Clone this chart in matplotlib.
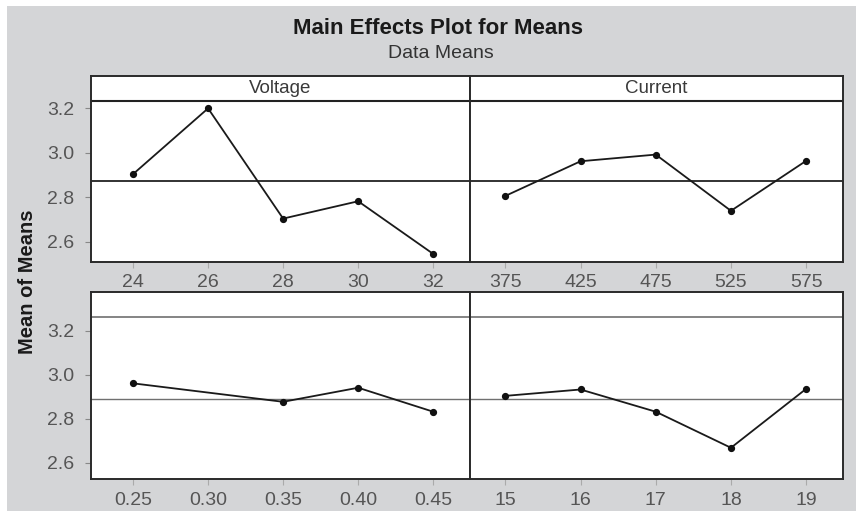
import matplotlib
matplotlib.use("Agg")
import matplotlib.pyplot as plt
from matplotlib.patches import Rectangle

plt.rcParams['font.family'] = ['Liberation Sans', 'DejaVu Sans']

# ---- data ----
voltage_levels = ['24', '26', '28', '30', '32']
voltage_means = [2.904, 3.200, 2.704, 2.782, 2.545]

current_levels = ['375', '425', '475', '525', '575']
current_means = [2.806, 2.962, 2.992, 2.739, 2.964]

feed_levels = ['0.25', '0.30', '0.35', '0.40', '0.45']
feed_means = [2.961, None, 2.877, 2.941, 2.832]

third_levels = ['15', '16', '17', '18', '19']
third_means = [2.904, 2.933, 2.832, 2.668, 2.936]

strip_labels = ['Voltage', 'Current', '', '']
grand_means = [2.874, 2.874, 2.892, 2.892]
y_ticks = [2.6, 2.8, 3.0, 3.2]
y_ticklabels = ['2.6', '2.8', '3.0', '3.2']

title = 'Main Effects Plot for Means'
subtitle = 'Data Means'
ylabel = 'Mean of Means'

# ---- layout ----
W, H = 856, 511
fig = plt.figure(figsize=(W / 100, H / 100), dpi=100)
fig.patch.set_facecolor('white')
bg = '#d4d5d7'
fig.patches.append(Rectangle((7 / W, 0), 1 - 7 / W, 1 - 6 / H, transform=fig.transFigure,
                             facecolor=bg, edgecolor='none', zorder=-10))

def px_rect(x0, x1, ytop, ybot):
    return [x0 / W, 1 - ybot / H, (x1 - x0) / W, (ybot - ytop) / H]

rows = [dict(ytop=75.7, ybot=261.7, ylim=(2.51, 3.347), strip=3.234,
             mcolor='#222222', mlw=1.3),
        dict(ytop=292.3, ybot=479.0, ylim=(2.526, 3.375), strip=3.264,
             mcolor='#707070', mlw=1.0)]
cols = [dict(x0=91, x1=470, xlim=(-0.56, 4.49)),
        dict(x0=470, x1=843, xlim=(-0.47, 4.49))]

panels = [(voltage_levels, voltage_means), (current_levels, current_means),
          (feed_levels, feed_means), (third_levels, third_means)]

tick_color = '#555555'
for i, (levels, means) in enumerate(panels):
    r = rows[i // 2]
    c = cols[i % 2]
    ax = fig.add_axes(px_rect(c['x0'], c['x1'], r['ytop'], r['ybot']))
    ax.set_facecolor('white')
    xs = [k for k, v in enumerate(means) if v is not None]
    ys = [v for v in means if v is not None]
    ax.plot(xs, ys, color='#1a1a1a', lw=1.3, marker='o', ms=4.2,
            markerfacecolor='#111111', markeredgecolor='#111111', zorder=3)
    ax.axhline(grand_means[i], color=r['mcolor'], lw=r['mlw'], zorder=2)
    ax.axhline(r['strip'], color=r['mcolor'], lw=r['mlw'] + 0.2, zorder=2)
    if strip_labels[i]:
        ax.text(0.5, (r['strip'] + r['ylim'][1]) / 2, strip_labels[i],
                transform=ax.get_yaxis_transform(), ha='center', va='center',
                fontsize=13.5, color='#3a3a3a')
    ax.set_xlim(*c['xlim'])
    ax.set_ylim(*r['ylim'])
    ax.set_xticks(range(len(levels)))
    ax.set_xticklabels(levels)
    ax.set_yticks(y_ticks)
    if i % 2 == 0:
        ax.set_yticklabels(y_ticklabels)
        ax.tick_params(axis='y', length=4, width=0.8, color='#888888',
                       labelcolor=tick_color, labelsize=14, pad=8)
    else:
        ax.tick_params(axis='y', left=False, labelleft=False)
    ax.tick_params(axis='x', length=4, width=0.8, color='#aaaaaa',
                   labelcolor=tick_color, labelsize=14, pad=5)
    for s in ax.spines.values():
        s.set_color('#2a2a2a')
        s.set_linewidth(1.4)

fig.text(438 / W, 1 - 29 / H, title, ha='center', va='center',
         fontsize=16, fontweight='bold', color='#1a1a1a')
fig.text(441 / W, 1 - 53 / H, subtitle, ha='center', va='center',
         fontsize=14, color='#333333')
fig.text(28 / W, 1 - 282 / H, ylabel, ha='center', va='center', rotation=90,
         fontsize=14.5, fontweight='bold', color='#1a1a1a')

fig.savefig('out.png', dpi=100, facecolor=fig.get_facecolor())
